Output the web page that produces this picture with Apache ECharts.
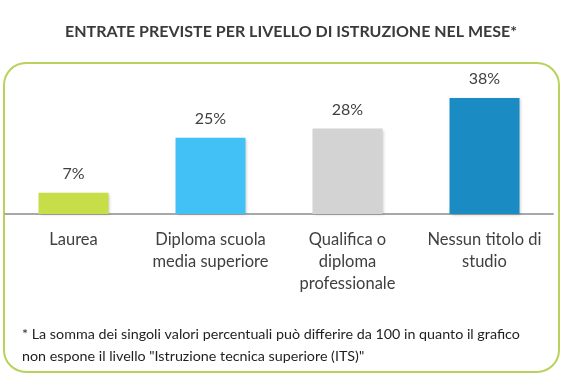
<!DOCTYPE html>
<html>
<head>
<meta charset="utf-8">
<script src="https://cdn.jsdelivr.net/npm/echarts@6/dist/echarts.min.js"></script>
<style>html,body{margin:0;padding:0;background:#fff}#c{width:569px;height:385px}</style>
</head>
<body>
<div id="c"></div>
<script>
const categories = ['Laurea', 'Diploma scuola\nmedia superiore', 'Qualifica o\ndiploma\nprofessionale', 'Nessun titolo di\nstudio'];
const values = [7, 25, 28, 38];
const colors = ['#c8de48', '#42c1f7', '#d3d3d3', '#1a8bc3'];
const titleText = 'ENTRATE PREVISTE PER LIVELLO DI ISTRUZIONE NEL MESE*';
const noteLines = ['* La somma dei singoli valori percentuali può differire da 100 in quanto il grafico', 'non espone il livello "Istruzione tecnica superiore (ITS)"'];
const FONT = 'Lato';

const chart = echarts.init(document.getElementById('c'), null, {renderer: 'canvas'});
chart.setOption({
  animation: false,
  title: {
    text: titleText, left: 60, top: 19,
    textStyle: {fontFamily: FONT, fontSize: 16, fontWeight: 'bold', color: '#3a3a3a'}
  },
  graphic: [
    {type: 'rect', shape: {x: 4, y: 63, width: 555, height: 309, r: 22}, style: {fill: 'none', stroke: '#b8d25a', lineWidth: 2}, z: -1},
    {type: 'text', left: 22, top: 323, style: {text: noteLines.join('\n'), fontFamily: FONT, fontSize: 14.3, lineHeight: 22, fill: '#1e1e1e'}}
  ],
  grid: {left: 5, right: 16, top: 98, bottom: 171, containLabel: false},
  xAxis: {
    type: 'category', data: categories,
    axisLine: {lineStyle: {color: '#a8a8a8', width: 2}},
    axisTick: {show: false},
    axisLabel: {interval: 0, fontFamily: FONT, fontSize: 16.5, color: '#404040', lineHeight: 22, margin: 15, verticalAlign: 'top'}
  },
  yAxis: {type: 'value', min: 0, max: 38, show: false, splitLine: {show: false}},
  series: [{
    type: 'bar', barWidth: 70,
    data: values.map((v, i) => ({value: v, itemStyle: {color: colors[i]}})),
    itemStyle: {shadowColor: 'rgba(0,0,0,0.2)', shadowBlur: 3, shadowOffsetX: 1, shadowOffsetY: 1},
    label: {show: true, position: 'top', distance: 11, formatter: '{c}%', fontFamily: FONT, fontSize: 16, color: '#404040'}
  }]
});
</script>
</body>
</html>
